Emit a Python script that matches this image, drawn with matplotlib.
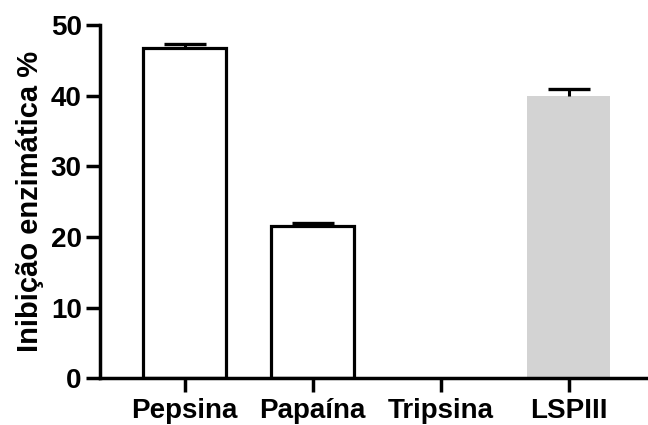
import numpy as np
import matplotlib
matplotlib.use("Agg")
import matplotlib.pyplot as plt

plt.rcParams['font.family'] = ['Liberation Sans', 'DejaVu Sans']
plt.rcParams['font.weight'] = 'bold'

# dados
categorias = ['Pepsina', 'Papaína', 'Tripsina', 'LSPIII']
inibicao = [46.7, 21.6, 0.0, 40.0]
erro = [0.6, 0.4, 0.0, 1.0]
cores = ['white', 'white', 'white', '#d3d3d3']
bordas = ['black', 'black', 'none', 'none']

fig = plt.figure(figsize=(6.48, 4.25), dpi=100)
ax = fig.add_axes([0.154, 0.11, 0.846, 0.831])

x = np.arange(len(categorias))
largura = 0.65
ax.bar(x, inibicao, width=largura, color=cores, edgecolor=bordas,
       linewidth=2.3, zorder=2)

# barras de erro (só para cima)
topo = np.array(inibicao) + np.array(erro)
for xi, yi, ti, ei in zip(x, inibicao, topo, erro):
    if ei <= 0:
        continue
    ax.vlines(xi, yi, ti, color='black', linewidth=2.2, zorder=3)
    ax.hlines(ti, xi - 0.165, xi + 0.165, color='black', linewidth=2.4, zorder=3)

ax.set_xlim(-0.664, 3.62)
ax.set_ylim(0, 50)
ax.set_yticks([0, 10, 20, 30, 40, 50])
ax.set_xticks(x)
ax.set_xticklabels(categorias)

for s in ['top', 'right']:
    ax.spines[s].set_visible(False)
for s in ['left', 'bottom']:
    ax.spines[s].set_linewidth(2.5)
ax.spines['left'].set_bounds(0, 50)

ax.tick_params(axis='both', length=10, width=2.5, labelsize=20, pad=3)
ax.tick_params(axis='x', pad=4)
ax.set_ylabel('Inibição enzimática %', fontsize=21, fontweight='bold', labelpad=5)

fig.savefig('out.png', dpi=100)
